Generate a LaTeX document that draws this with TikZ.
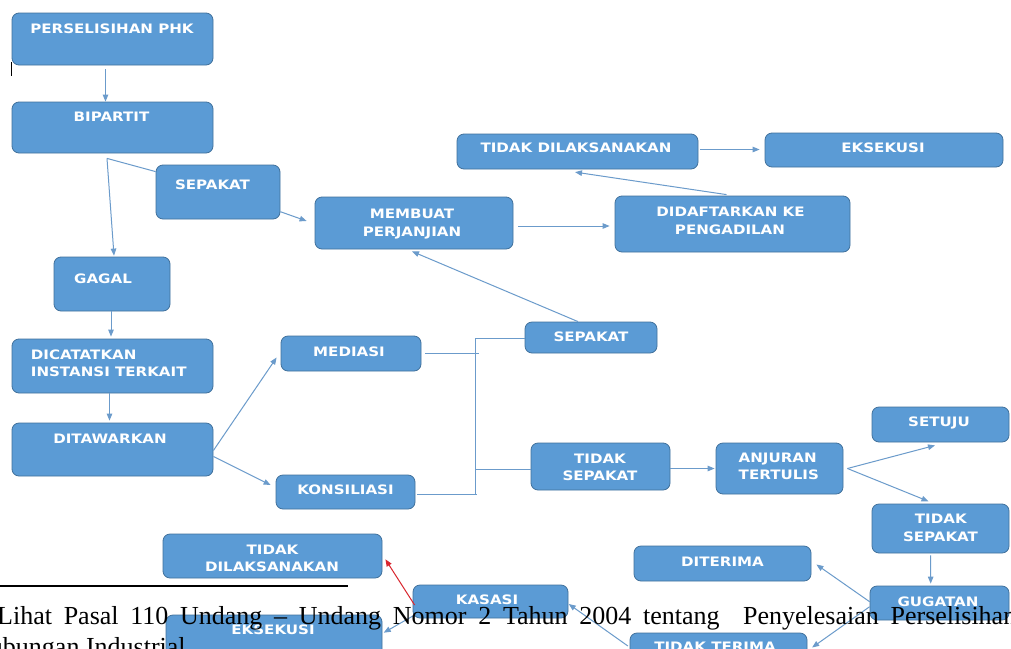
\documentclass[tikz,border=0pt]{standalone}
\usepackage{fontspec}
\usetikzlibrary{arrows.meta,fit}
\newfontfamily\boxfont{DejaVu Sans}[FakeStretch=1.16]
\newfontfamily\fnfont{Liberation Serif}
\definecolor{boxfill}{HTML}{5B9BD5}
\definecolor{boxedge}{HTML}{41719C}
\definecolor{linec}{HTML}{6B9BCB}
\definecolor{redc}{HTML}{D9262E}
\begin{document}
\begin{tikzpicture}[x=1pt,y=-1pt,
  bx/.style={draw=boxedge, fill=boxfill, rounded corners=7pt, inner sep=0pt, line width=0.8pt},
  tx/.style={text=white, font=\boxfont\bfseries\fontsize{13}{15}\selectfont, inner sep=0pt, anchor=base},
  txl/.style={tx, anchor=base west},
  conn/.style={draw=linec, line width=1pt},
  arr/.style={conn, -{Triangle[length=7pt,width=5.5pt]}},
  redarr/.style={draw=redc, line width=1pt, -{Triangle[length=7pt,width=5.5pt]}},
  fn/.style={inner sep=0pt, anchor=base west, font=\fnfont\fontsize{26}{30}\selectfont}
]
\useasboundingbox (0,0) rectangle (1011,648);
\clip (0,0) rectangle (1011,648);
\fill[white] (0,0) rectangle (1011,648);

% boxes
\node[bx, fit={(12,13) (213,65)}] (phk) {};
\node[bx, fit={(12,102) (213,153)}] (bip) {};
\node[bx, fit={(156,165) (280,219)}] (sep1) {};
\node[bx, fit={(54,257) (170,311)}] (gagal) {};
\node[bx, fit={(315,197) (513,249)}] (mem) {};
\node[bx, fit={(615,196) (850,252)}] (daf) {};
\node[bx, fit={(457,134) (698,169)}] (td1) {};
\node[bx, fit={(765,133) (1003,167)}] (eks1) {};
\node[bx, fit={(12,339) (213,393)}] (dic) {};
\node[bx, fit={(12,423) (213,476)}] (dit) {};
\node[bx, fit={(281,336) (421,371)}] (med) {};
\node[bx, fit={(276,475) (415,509)}] (kon) {};
\node[bx, fit={(525,322) (657,353)}] (sep2) {};
\node[bx, fit={(531,443) (670,490)}] (ts1) {};
\node[bx, fit={(716,443) (843,494)}] (anj) {};
\node[bx, fit={(872,407) (1009,442)}] (setj) {};
\node[bx, fit={(872,504) (1009,553)}] (ts2) {};
\node[bx, fit={(870,586) (1009,620)}] (gug) {};
\node[bx, fit={(634,546) (811,581)}] (dtr) {};
\node[bx, fit={(630,633) (807,672)}] (tt) {};
\node[bx, fit={(413,585) (568,618)}] (kas) {};
\node[bx, fit={(163,534) (382,578)}] (td2) {};
\node[bx, fit={(166,615) (382,672)}] (eks2) {};

% texts
\node[tx] (phk-t) at (112,33.4) {PERSELISIHAN PHK};
\node[tx] (bip-t) at (111.5,121.7) {BIPARTIT};
\node[tx] (sep1-t) at (212.5,189.2) {SEPAKAT};
\node[tx] (gagal-t) at (103,283.2) {GAGAL};
\node[tx] (mem-t1) at (412,218.2) {MEMBUAT};
\node[tx] (mem-t2) at (412,236.2) {PERJANJIAN};
\node[tx] (daf-t1) at (730.5,216.7) {DIDAFTARKAN KE};
\node[tx] (daf-t2) at (730,234.4) {PENGADILAN};
\node[tx] (td1-t) at (576,152.5) {TIDAK DILAKSANAKAN};
\node[tx] (eks1-t) at (883,152.5) {EKSEKUSI};
\node[txl] (dic-t1) at (30.7,359.4) {DICATATKAN};
\node[txl] (dic-t2) at (30.7,376.7) {INSTANSI TERKAIT};
\node[tx] (dit-t) at (110,443.7) {DITAWARKAN};
\node[tx] (med-t) at (349,356) {MEDIASI};
\node[tx] (kon-t) at (345.5,494.7) {KONSILIASI};
\node[tx] (sep2-t) at (591,341.7) {SEPAKAT};
\node[tx] (ts1-t1) at (600,463.4) {TIDAK};
\node[tx] (ts1-t2) at (600,480) {SEPAKAT};
\node[tx] (anj-t1) at (777.7,462.4) {ANJURAN};
\node[tx] (anj-t2) at (778.8,479.7) {TERTULIS};
\node[tx] (setj-t) at (939,426.7) {SETUJU};
\node[tx] (ts2-t1) at (940.8,523.7) {TIDAK};
\node[tx] (ts2-t2) at (940.5,541) {SEPAKAT};
\node[tx] (gug-t) at (938,606) {GUGATAN};
\node[tx] (dtr-t) at (722.5,566) {DITERIMA};
\node[tx] (tt-t) at (715,651) {TIDAK TERIMA};
\node[tx] (kas-t) at (487,604.2) {KASASI};
\node[tx] (td2-t1) at (272.5,554.7) {TIDAK};
\node[tx] (td2-t2) at (272,571.7) {DILAKSANAKAN};
\node[tx] (eks2-t) at (273,634.2) {EKSEKUSI};

% connectors
\draw[arr] ([xshift=-7pt,yshift=-4pt]phk.south) -- ([xshift=-7pt]bip.north);
\coordinate (bipout) at ([xshift=-5.5pt,yshift=-5pt]bip.south);
\draw[conn] (bipout) -- ([yshift=-7pt]sep1.north west);
\draw[arr] (bipout) -- ([xshift=2pt,yshift=1pt]gagal.north);
\draw[arr] ([yshift=-19.7pt]sep1.east) -- ([xshift=-8pt,yshift=2pt]mem.west);
\draw[arr] ([xshift=-1pt]gagal.south) -- ([xshift=-1.5pt,yshift=2pt]dic.north);
\draw[arr] ([xshift=-3pt]dic.south) -- ([xshift=-3pt,yshift=2pt]dit.north);
\draw[arr] ([yshift=-1pt]dit.east) -- ([xshift=-4pt,yshift=-4pt]med.west);
\draw[arr] ([yshift=-7pt]dit.east) -- ([xshift=-5pt,yshift=7pt]kon.west);

\coordinate (j1) at (475,338);
\coordinate (j2) at (475,495);
\coordinate (j3) at (475,469);
\draw[conn] (j1) -- (j2);
\draw[conn] ([xshift=4pt]med.east) -- ([xshift=4pt]med.east -| j1);
\draw[conn] ([xshift=2pt,yshift=-2.3pt]kon.east) -- ([xshift=2pt,yshift=-2.3pt]kon.east -| j1);
\draw[conn] (j1) -- (j1 -| sep2.west);
\draw[conn] (j3) -- (j3 -| ts1.west);

\draw[arr] ([xshift=-13pt]sep2.north) -- ([xshift=-2pt,yshift=-2pt]mem.south);
\draw[arr] ([xshift=5pt,yshift=-3pt]mem.east) -- ([xshift=-5pt,yshift=-2pt]daf.west);
\draw[arr] ([xshift=-6pt,yshift=1pt]daf.north) -- ([xshift=-2.5pt,yshift=-2.7pt]td1.south);
\draw[arr] ([xshift=2pt,yshift=2pt]td1.east) -- ([xshift=-5pt,yshift=0.5pt]eks1.west);
\draw[arr] ([yshift=-2pt]ts1.east) -- ([xshift=-1pt]anj.west);
\coordinate (anjout) at ([xshift=4pt]anj.east);
\draw[arr] (anjout) -- ([xshift=-5.5pt,yshift=-3pt]setj.south);
\draw[arr] (anjout) -- ([xshift=-12pt,yshift=2.3pt]ts2.north);
\draw[arr] ([xshift=-10pt,yshift=-2pt]ts2.south) -- ([xshift=-8.8pt,yshift=2pt]gug.north);
\draw[arr] ([yshift=1.3pt]gug.west) -- ([xshift=5pt,yshift=-1pt]dtr.east);
\draw[arr] ([yshift=-3.7pt]gug.west) -- ([xshift=4.7pt,yshift=5pt]tt.east);
\draw[arr] ([xshift=-1.7pt,yshift=6.5pt]tt.west) -- ([xshift=0.3pt,yshift=-2.5pt]kas.east);
\draw[redarr] ([xshift=2pt,yshift=-3.5pt]kas.west) -- ([xshift=3pt,yshift=-3.3pt]td2.east);
\draw[arr] ([xshift=2pt,yshift=-13.5pt]kas.west) -- ([xshift=1.3pt,yshift=10.8pt]eks2.east);

% cursor mark
\draw[line width=1.2pt] (11.7,62) -- (11.7,76);

% footnote
\draw[line width=1.6pt] (0,585.7) -- (348.3,585.7);
\node[fn] (fn1) at (-3,624) {\makebox[1019pt][s]{Lihat Pasal 110 Undang – Undang Nomor 2 Tahun 2004 tentang\ \ Penyelesaian Perselisihan}};
\node[fn] (fn2) at (-29,655) {Hubungan Industrial};
\end{tikzpicture}
\end{document}
